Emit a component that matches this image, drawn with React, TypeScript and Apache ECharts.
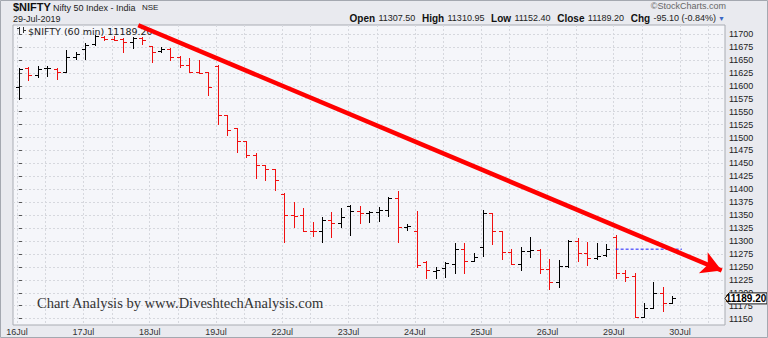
import React, { useEffect, useRef } from "react";
import * as echarts from "echarts";

// ---- data ----
const dayLabels = ["16Jul", "17Jul", "18Jul", "19Jul", "22Jul", "23Jul", "24Jul", "25Jul", "26Jul", "29Jul", "30Jul"];
const barsPerDay = 7;

const opens = [
  11597, 11634, 11620, 11634, 11632, 11627, 11655,
  11671, 11680, 11695, 11690, 11690, 11685, 11692,
  11677, 11667, 11671, 11656, 11641, 11627, 11627,
  11639, 11543, 11518, 11493, 11466, 11446, 11439,
  11391, 11350, 11350, 11320, 11320, 11341, 11334,
  11368, 11358, 11355, 11356, 11360, 11383, 11328,
  11320, 11260, 11243, 11247, 11256, 11285, 11262,
  11289, 11354, 11319, 11278, 11255, 11281, 11283,
  11246, 11220, 11252, 11301, 11276, 11267, 11273,
  11307.5, 11238, 11232, 11154, 11170, 11199, 11181,
];
const highs = [
  11634, 11637, 11639, 11639, 11634, 11669, 11666,
  11682, 11698, 11697, 11696, 11692, 11695, 11694,
  11677, 11674, 11672, 11658, 11653, 11650, 11627,
  11640, 11544, 11519, 11493, 11471, 11447, 11439,
  11392, 11376, 11363, 11337, 11347, 11356, 11363,
  11370, 11368, 11358, 11366, 11385, 11397, 11333,
  11359, 11262, 11250, 11260, 11296, 11296, 11276,
  11360, 11355, 11319, 11285, 11288, 11308, 11285,
  11265, 11263, 11302, 11305, 11299, 11297, 11294,
  11310.95, 11244, 11238, 11180, 11220, 11212, 11194,
];
const lows = [
  11575, 11612, 11616, 11618, 11613, 11626, 11651,
  11651, 11679, 11688, 11688, 11665, 11672, 11680,
  11645, 11665, 11650, 11637, 11626, 11625, 11582,
  11526, 11504, 11472, 11462, 11421, 11418, 11399,
  11298, 11328, 11320, 11310, 11299, 11308, 11327,
  11312, 11335, 11337, 11339, 11349, 11299, 11321,
  11250, 11228, 11228, 11230, 11238, 11238, 11262,
  11271, 11294, 11265, 11255, 11244, 11269, 11238,
  11207, 11211, 11250, 11262, 11254, 11265, 11271,
  11228, 11222, 11152.4, 11153, 11170, 11164, 11181,
];
const closes = [
  11632, 11621, 11632, 11634, 11627, 11656, 11661,
  11679, 11697, 11690, 11689, 11685, 11692, 11688,
  11666, 11671, 11656, 11641, 11627, 11625, 11598,
  11544, 11515, 11494, 11466, 11446, 11439, 11418,
  11350, 11349, 11320, 11319, 11341, 11334, 11346,
  11358, 11355, 11356, 11360, 11383, 11328, 11329,
  11254, 11244, 11245, 11257, 11285, 11262, 11269,
  11354, 11319, 11278, 11255, 11281, 11283, 11246,
  11220, 11252, 11301, 11276, 11267, 11271, 11284.3,
  11239, 11231, 11154, 11170, 11199, 11180, 11189.2,
];

const yTicks = [11150, 11175, 11200, 11225, 11250, 11275, 11300, 11325, 11350, 11375, 11400, 11425,
  11450, 11475, 11500, 11525, 11550, 11575, 11600, 11625, 11650, 11675, 11700];

// annotations (data coords: [bar index, price])
const trendStart = [12.6, 11717];
const trendEnd = [74.2, 11243];
const prevCloseLevel = 11284.3;
const prevCloseSpan = [63, 70];

const headerQuote = { open: "11307.50", high: "11310.95", low: "11152.40", close: "11189.20", chg: "-95.10 (-0.84%)" };

// axis range
const xMin = -0.63;
const xMax = 74.55;
const yMin = 11137.8;
const yMax = 11717.4;
const gridShift = -0.2;

const SANS = "Liberation Sans, Arial, sans-serif";

export default function App() {
  const ref = useRef<HTMLDivElement>(null);
  useEffect(() => {
    document.body.style.margin = "0";
    const chart = echarts.init(ref.current!, null, { renderer: "svg" });

    const data = opens.map((o, i) => [
      i, o, highs[i], lows[i], closes[i],
      i === 0 || closes[i] >= closes[i - 1] ? 1 : 0,
    ]);

    const dayTicks: number[] = [];
    const gridTicks: number[] = [];
    dayLabels.forEach((_, d) => {
      dayTicks.push(d * barsPerDay + gridShift);
      gridTicks.push(d * barsPerDay + gridShift);
      gridTicks.push(d * barsPerDay + 3 + gridShift);
    });

    const baseGraphics: any[] = [
      { type: "rect", id: "frame", shape: { x: 0.5, y: 0.5, width: 767, height: 337 }, style: { fill: "none", stroke: "#a4a8b0", lineWidth: 1 }, z: 100 },
      { type: "text", id: "t1", x: 13, y: 7, style: { text: "$NIFTY", font: `bold 11px ${SANS}`, fill: "#111", verticalAlign: "middle" } },
      { type: "text", id: "t2", x: 53, y: 7.5, style: { text: "Nifty 50 Index - India", font: `9px ${SANS}`, fill: "#222", verticalAlign: "middle" } },
      { type: "text", id: "t3", x: 142, y: 7.5, style: { text: "NSE", font: `8px ${SANS}`, fill: "#222", verticalAlign: "middle" } },
      { type: "text", id: "t4", x: 13, y: 18.5, style: { text: "29-Jul-2019", font: `9px ${SANS}`, fill: "#222", verticalAlign: "middle" } },
      { type: "text", id: "t5", x: 726, y: 6, style: { text: "\u00A9StockCharts.com", font: `9px ${SANS}`, fill: "#666", align: "right", verticalAlign: "middle" } },
      {
        type: "text", id: "t6", x: 716, y: 18,
        style: {
          text: `{b|Open} {n|${headerQuote.open}}  {b|High} {n|${headerQuote.high}}  {b|Low} {n|${headerQuote.low}}  {b|Close} {n|${headerQuote.close}}  {b|Chg} {n|${headerQuote.chg}}`,
          align: "right", verticalAlign: "middle",
          rich: {
            b: { font: `bold 10px ${SANS}`, fill: "#111" },
            n: { font: `9px ${SANS}`, fill: "#222" },
          },
        },
      },
      { type: "text", id: "t7", x: 718, y: 18, style: { text: "\u25BC", font: `7px ${SANS}`, fill: "#3a66c4", verticalAlign: "middle" } },
      // legend icon
      { type: "line", id: "i1", shape: { x1: 19.5, y1: 27, x2: 19.5, y2: 34 }, style: { stroke: "#333", lineWidth: 1 } },
      { type: "line", id: "i2", shape: { x1: 17, y1: 28.5, x2: 19.5, y2: 28.5 }, style: { stroke: "#333", lineWidth: 1 } },
      { type: "line", id: "i3", shape: { x1: 23.5, y1: 27, x2: 23.5, y2: 33 }, style: { stroke: "#333", lineWidth: 1 } },
      { type: "line", id: "i4", shape: { x1: 23.5, y1: 30.5, x2: 26, y2: 30.5 }, style: { stroke: "#333", lineWidth: 1 } },
      { type: "text", id: "t8", x: 28, y: 31, style: { text: `$NIFTY (60 min) ${headerQuote.close}`, font: `9.5px DejaVu Sans`, fill: "#222", verticalAlign: "middle" } },
      { type: "text", id: "t9", x: 37, y: 303, style: { text: "Chart Analysis by www.DiveshtechAnalysis.com", font: `14.5px Liberation Serif`, fill: "#333", verticalAlign: "middle" }, z: 5 },
    ];

    const redStyle = { color: "#ff0000", type: "solid", width: 4.5, opacity: 1 };

    const option: any = {
      animation: false,
      backgroundColor: "#e9eaef",
      grid: { left: 13, right: 43, top: 25, bottom: 13, show: true, backgroundColor: "#f5f6fa", borderColor: "#a9acb3", borderWidth: 1 },
      xAxis: {
        type: "value", min: xMin, max: xMax,
        axisLine: { show: false },
        axisTick: { show: false, customValues: gridTicks },
        axisLabel: {
          customValues: dayTicks,
          formatter: (v: number) => dayLabels[Math.round((v - gridShift) / barsPerDay)] ?? "",
          fontSize: 9, fontFamily: SANS, color: "#333", margin: 2,
        },
        splitLine: { show: true, lineStyle: { color: "#d6d8de", type: [2, 2], width: 1 } },
      },
      yAxis: {
        type: "value", position: "right", min: yMin, max: yMax,
        axisLine: { show: false },
        axisTick: { show: true, length: 3, customValues: yTicks, lineStyle: { color: "#555" } },
        axisLabel: { customValues: yTicks, formatter: (v: number) => String(v), fontSize: 9, fontFamily: SANS, color: "#222", margin: 4 },
        splitLine: { show: true, lineStyle: { color: "#d6d8de", type: [2, 2], width: 1 } },
      },
      series: [
        {
          type: "custom",
          data,
          encode: { x: 0, y: [1, 2, 3, 4] },
          renderItem: (params: any, api: any) => {
            const x = api.value(0);
            const o = api.coord([x, api.value(1)]);
            const h = api.coord([x, api.value(2)]);
            const l = api.coord([x, api.value(3)]);
            const c = api.coord([x, api.value(4)]);
            const color = api.value(5) ? "#000000" : "#f01010";
            const px = Math.round(h[0]) + 0.5;
            const oy = Math.round(o[1]) + 0.5;
            const cy = Math.round(c[1]) + 0.5;
            const st = { stroke: color, lineWidth: 1 };
            return {
              type: "group",
              children: [
                { type: "line", shape: { x1: px, y1: Math.round(h[1]), x2: px, y2: Math.round(l[1]) + 1 }, style: st },
                { type: "line", shape: { x1: px - 3.5, y1: oy, x2: px, y2: oy }, style: st },
                { type: "line", shape: { x1: px, y1: cy, x2: px + 3.5, y2: cy }, style: st },
              ],
            };
          },
          z: 3,
        },
        {
          type: "line",
          name: "prevClose",
          data: [[prevCloseSpan[0], prevCloseLevel], [prevCloseSpan[1], prevCloseLevel]],
          symbol: "none",
          silent: true,
          color: "#1c1cff",
          lineStyle: { color: "#1c1cff", type: [3, 2], width: 1 },
          z: 4,
        },
        {
          type: "line",
          data: [],
          silent: true,
          z: 5,
          markLine: {
            silent: true,
            animation: false,
            label: { show: false },
            emphasis: { disabled: true },
            data: [
              [
                { coord: trendStart, symbol: "none", lineStyle: redStyle },
                { coord: trendEnd, symbol: "arrow", symbolSize: [17, 20], lineStyle: redStyle },
              ],
            ],
          },
        },
      ],
      graphic: { elements: baseGraphics },
    };
    chart.setOption(option);

    const lastClose = closes[closes.length - 1];
    const yLast = chart.convertToPixel({ yAxisIndex: 0 }, lastClose) as number;
    const bx = 725;
    const priceBox = [
      {
        type: "polygon", id: "pb",
        shape: { points: [[bx, yLast], [bx + 4, yLast - 5.5], [767, yLast - 5.5], [767, yLast + 5.5], [bx + 4, yLast + 5.5]] },
        style: { fill: "#ffffff", stroke: "#111", lineWidth: 1 }, z: 50,
      },
      { type: "text", id: "pbt", x: 746, y: yLast + 0.5, style: { text: lastClose.toFixed(2), font: `bold 10px ${SANS}`, fill: "#000", align: "center", verticalAlign: "middle" }, z: 51 },
    ];
    chart.setOption({ graphic: { elements: [...baseGraphics, ...priceBox] } }, { replaceMerge: ["graphic"] });

    return () => chart.dispose();
  }, []);
  return <div ref={ref} style={{ position: "fixed", left: 0, top: 0, width: 768, height: 338 }} />;
}
